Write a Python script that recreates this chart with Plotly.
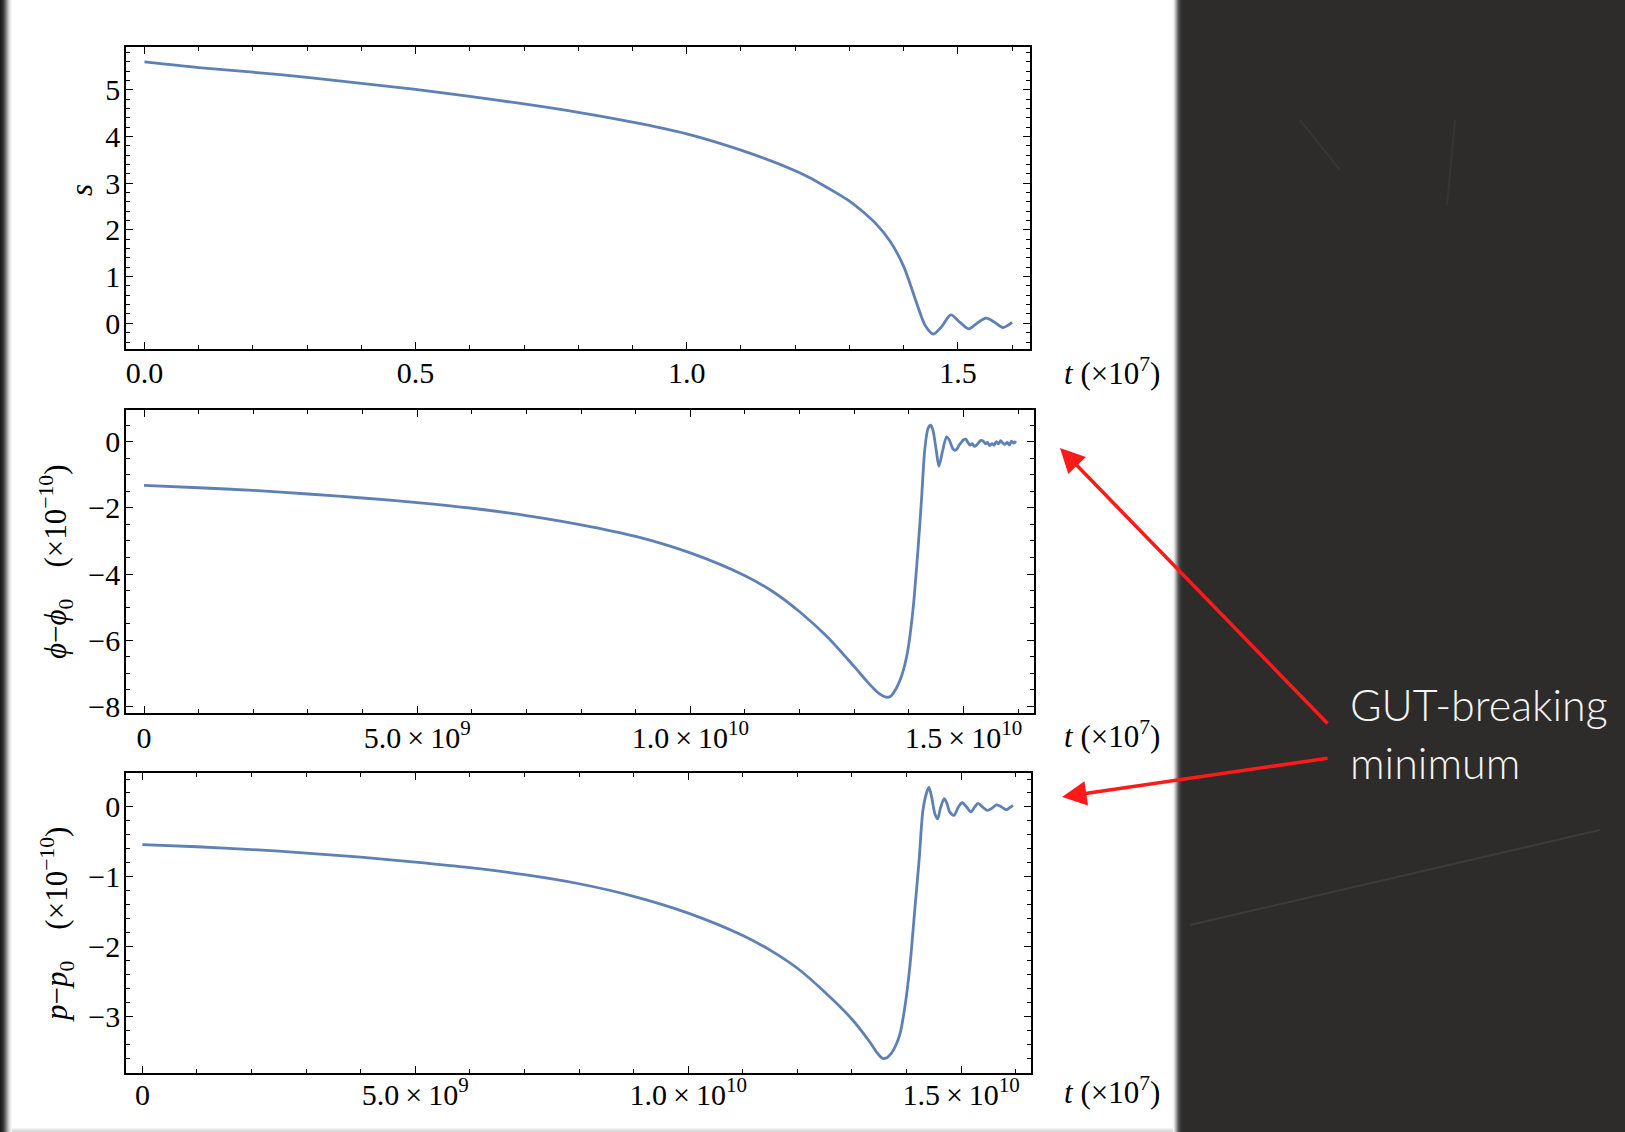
import numpy as np
import plotly.graph_objects as go

W, H = 1625, 1132

# ---------------- data ----------------
# top panel: s versus t (t in units of 1e7)
t_s = [0.0, 0.1, 0.2, 0.3, 0.4, 0.5, 0.6, 0.7, 0.8, 0.9, 1.0, 1.1, 1.2,
       1.225, 1.25, 1.275, 1.3, 1.325, 1.35, 1.375, 1.4, 1.425, 1.44, 1.455,
       1.47, 1.487, 1.504, 1.52, 1.535, 1.552, 1.568, 1.583, 1.6]
s_vals = [5.6, 5.48, 5.38, 5.27, 5.14, 5.01, 4.86, 4.70, 4.52, 4.31, 4.06,
          3.71, 3.27, 3.13, 2.97, 2.80, 2.62, 2.39, 2.12, 1.76, 1.22, 0.40,
          -0.05, -0.23, -0.07, 0.18, 0.02, -0.12, 0.0, 0.11, 0.02, -0.09, 0.02]

# middle panel: phi - phi0 (x1e-10) versus t (t in units of 1e9)
t_phi = [0.0, 1, 2, 3, 4, 5, 6, 7, 8, 9, 10, 11, 11.5, 12, 12.5, 13, 13.22,
         13.35, 13.47, 13.58, 13.66, 13.77, 13.86, 13.93, 13.99, 14.08, 14.17,
         14.23, 14.29, 14.35, 14.40, 14.44, 14.50, 14.55, 14.62, 14.69, 14.74,
         14.80, 14.84, 14.88, 14.92, 14.96, 15.00, 15.04, 15.08, 15.12, 15.16,
         15.20, 15.24, 15.28, 15.32, 15.36, 15.40, 15.44, 15.48, 15.52, 15.56,
         15.60, 15.64, 15.68, 15.72, 15.76, 15.80, 15.84, 15.88, 15.92, 15.96]
phi_vals = [-1.32, -1.39, -1.47, -1.58, -1.70, -1.84, -2.01, -2.23, -2.51, -2.86,
            -3.36, -4.05, -4.52, -5.14, -5.89, -6.80, -7.22, -7.45, -7.63, -7.72,
            -7.70, -7.45, -7.11, -6.71, -6.21, -5.00, -3.18, -1.77, -0.25, 0.40,
            0.50, 0.35, -0.25, -0.74, -0.25, 0.15, 0.05, -0.20, -0.26, -0.22,
            -0.10, -0.02, 0.06, 0.08, -0.02, -0.10, -0.06, -0.14, -0.10, -0.02,
            0.04, 0.02, -0.06, -0.02, -0.12, -0.06, -0.10, 0.0, -0.06, 0.03,
            -0.04, -0.08, -0.02, -0.10, 0.02, -0.04, 0.02]

# bottom panel: p - p0 (x1e-10) versus t (t in units of 1e9)
t_p = [0.0, 1, 2, 3, 4, 5, 6, 7, 8, 9, 10, 11, 11.5, 12, 12.5, 13, 13.33,
       13.45, 13.56, 13.64, 13.72, 13.80, 13.88, 13.97, 14.06, 14.15, 14.23,
       14.30, 14.37, 14.41, 14.46, 14.52, 14.57, 14.62, 14.69, 14.74, 14.79,
       14.87, 14.95, 15.02, 15.10, 15.18, 15.25, 15.31, 15.39, 15.48, 15.56,
       15.65, 15.74, 15.83, 15.89, 15.95]
p_vals = [-0.54, -0.57, -0.61, -0.66, -0.72, -0.79, -0.87, -0.97, -1.10, -1.28,
          -1.52, -1.84, -2.05, -2.31, -2.65, -3.04, -3.37, -3.51, -3.60, -3.59,
          -3.53, -3.42, -3.25, -2.86, -2.29, -1.48, -0.76, -0.05, 0.21, 0.28,
          0.14, -0.10, -0.17, -0.02, 0.12, 0.05, -0.07, -0.12, 0.0, 0.06, 0.0,
          -0.07, 0.0, 0.05, 0.0, -0.05, -0.02, 0.03, 0.0, -0.04, -0.01, 0.02]

# tick labels
top_xtick_vals = [0.0, 0.5, 1.0, 1.5]
top_xtick_text = ["0.0", "0.5", "1.0", "1.5"]
big_xtick_vals = [0, 5e9, 1e10, 1.5e10]
big_xtick_text = ["0", "5.0\u2009×\u200910<sup>9</sup>", "1.0\u2009×\u200910<sup>10</sup>",
                  "1.5\u2009×\u200910<sup>10</sup>"]
top_ytick_vals = [0, 1, 2, 3, 4, 5]
mid_ytick_vals = [0, -2, -4, -6, -8]
bot_ytick_vals = [0, -1, -2, -3]

BLUE = "#5E81B5"
SERIF = "Liberation Serif"
TICKFONT = dict(family=SERIF, size=30, color="black")


def ytext(v):
    return str(v).replace("-", "\u2212")


def px_x(x):
    return x / W


def px_y(y):
    return 1 - y / H


def axis(domain_px, rng, anchor, tickvals, ticktext, minor_dtick, is_x, standoff=0):
    if is_x:
        dom = [px_x(domain_px[0]), px_x(domain_px[1])]
    else:
        dom = [px_y(domain_px[1]), px_y(domain_px[0])]
    return dict(
        domain=dom, range=rng, anchor=anchor, automargin=False,
        showline=True, linecolor="black", linewidth=1.6, mirror="allticks",
        ticks="inside", ticklen=7, tickwidth=1.3, tickcolor="black",
        tickmode="array", tickvals=tickvals, ticktext=ticktext,
        ticklabelstandoff=standoff,
        minor=dict(dtick=minor_dtick, tick0=0, ticks="inside", ticklen=4,
                   tickwidth=1.1, tickcolor="black", showgrid=False),
        showgrid=False, zeroline=False, tickfont=TICKFONT, fixedrange=True,
    )


fig = go.Figure()
line = dict(color=BLUE, width=2.8, shape="spline", smoothing=0.8)
fig.add_trace(go.Scatter(x=t_s, y=s_vals, mode="lines", line=line,
                         xaxis="x", yaxis="y", showlegend=False))
fig.add_trace(go.Scatter(x=np.array(t_phi) * 1e9, y=phi_vals, mode="lines",
                         line=line, xaxis="x2", yaxis="y2", showlegend=False))
fig.add_trace(go.Scatter(x=np.array(t_p) * 1e9, y=p_vals, mode="lines",
                         line=line, xaxis="x3", yaxis="y3", showlegend=False))

fig.update_layout(
    width=W, height=H, autosize=False, showlegend=False,
    margin=dict(l=0, r=0, t=0, b=0, pad=0, autoexpand=False),
    paper_bgcolor="#2d2c2a", plot_bgcolor="white",
    xaxis=axis((126, 1030), [-0.034, 1.633], "y", top_xtick_vals, top_xtick_text, 0.1, True, -4),
    yaxis=axis((47, 349), [-0.55, 5.92], "x", top_ytick_vals,
               [ytext(v) for v in top_ytick_vals], 0.2, False, -2),
    xaxis2=axis((126, 1034), [-0.33e9, 16.29e9], "y2", big_xtick_vals, big_xtick_text, 1e9, True, -3),
    yaxis2=axis((410, 713), [-8.2, 0.96], "x2", mid_ytick_vals,
                [ytext(v) for v in mid_ytick_vals], 0.5, False, -2),
    xaxis3=axis((126, 1031), [-0.30e9, 16.28e9], "y3", big_xtick_vals, big_xtick_text, 1e9, True, -6),
    yaxis3=axis((773, 1073), [-3.81, 0.486], "x3", bot_ytick_vals,
                [ytext(v) for v in bot_ytick_vals], 0.2, False, -2),
)

# ---------------- page background (white sheet on a chalkboard) ----------------
shapes = []


def rect(x0, x1, y0, y1, color, opacity=1.0):
    shapes.append(dict(type="rect", xref="paper", yref="paper",
                       x0=px_x(x0), x1=px_x(x1), y0=px_y(y1), y1=px_y(y0),
                       fillcolor=color, line=dict(width=0), layer="below",
                       opacity=opacity))


rect(0, 1173, 0, 1132, "white")
# bottom edge (light)
for i, c in enumerate(["#f3f3f3", "#e6e6e6", "#dedede", "#d8d8d8"]):
    rect(0, 1173, 1128 + i, 1129.05 + i, c)
# left shadow
for i, c in enumerate(["#1b1b1b", "#232323", "#2e2e2e", "#3d3d3d", "#555555", "#6f6f6f",
                       "#8c8c8c", "#a9a9a9", "#c4c4c4", "#dadada", "#ebebeb", "#f6f6f6"]):
    rect(i, i + 1.05, 0, 1132, c)
# right shadow
for i, c in enumerate(["#f2f2f2", "#dcdcdc", "#bdbdbd", "#9a9a9a", "#777777", "#5a5a5a",
                       "#464646", "#3a3a3a", "#333333", "#2f2f2f"]):
    rect(1173 + i, 1174.05 + i, 0, 1132, c)

# faint chalk streaks
for (x0, y0, x1, y1, op, w) in [(1190, 925, 1600, 830, 0.07, 2),
                                (1300, 120, 1340, 170, 0.05, 2),
                                (1455, 120, 1447, 205, 0.04, 2)]:
    shapes.append(dict(type="line", xref="paper", yref="paper",
                       x0=px_x(x0), y0=px_y(y0), x1=px_x(x1), y1=px_y(y1),
                       line=dict(color="white", width=w), opacity=op, layer="below"))

fig.update_layout(shapes=shapes)

# ---------------- text annotations ----------------
ann = []
LABFONT = dict(family=SERIF, size=31, color="black")
ann.append(dict(text="<i>s</i>", x=px_x(82), y=px_y(190), xref="paper", yref="paper",
                showarrow=False, textangle=-90, font=LABFONT,
                xanchor="center", yanchor="middle"))
ann.append(dict(text="<i>ϕ</i>\u2212<i>ϕ</i><sub>0</sub>\u2003(×10<sup>\u221210</sup>)",
                x=px_x(56), y=px_y(562), xref="paper", yref="paper",
                showarrow=False, textangle=-90, font=LABFONT,
                xanchor="center", yanchor="middle"))
ann.append(dict(text="<i>p</i>\u2212<i>p</i><sub>0</sub>\u2003(×10<sup>\u221210</sup>)",
                x=px_x(57), y=px_y(925), xref="paper", yref="paper",
                showarrow=False, textangle=-90, font=LABFONT,
                xanchor="center", yanchor="middle"))
for yc in (371, 734, 1090):
    ann.append(dict(text="<i>t</i> (×10<sup>7</sup>)", x=px_x(1112), y=px_y(yc),
                    xref="paper", yref="paper", showarrow=False, font=LABFONT,
                    xanchor="center", yanchor="middle"))

# red arrows
for tip, tail in [((1060, 448), (1329, 725)), ((1062, 797), (1329, 758))]:
    ann.append(dict(text="", x=px_x(tip[0]), y=px_y(tip[1]), xref="paper", yref="paper",
                    ax=tail[0] - tip[0], ay=tail[1] - tip[1], axref="pixel", ayref="pixel",
                    showarrow=True, arrowhead=2, arrowsize=1.4, arrowwidth=3.5,
                    arrowcolor="#ff1a1a"))

TXTFONT = dict(family="Lato", size=43, color="#f4f4f4", weight=300)
ann.append(dict(text="GUT-breaking", x=px_x(1348), y=px_y(704), xref="paper", yref="paper",
                showarrow=False, font=TXTFONT, xanchor="left", yanchor="middle"))
ann.append(dict(text="minimum", x=px_x(1348), y=px_y(762), xref="paper", yref="paper",
                showarrow=False, font=TXTFONT, xanchor="left", yanchor="middle"))

fig.update_layout(annotations=ann)

fig.write_html("out.html")
